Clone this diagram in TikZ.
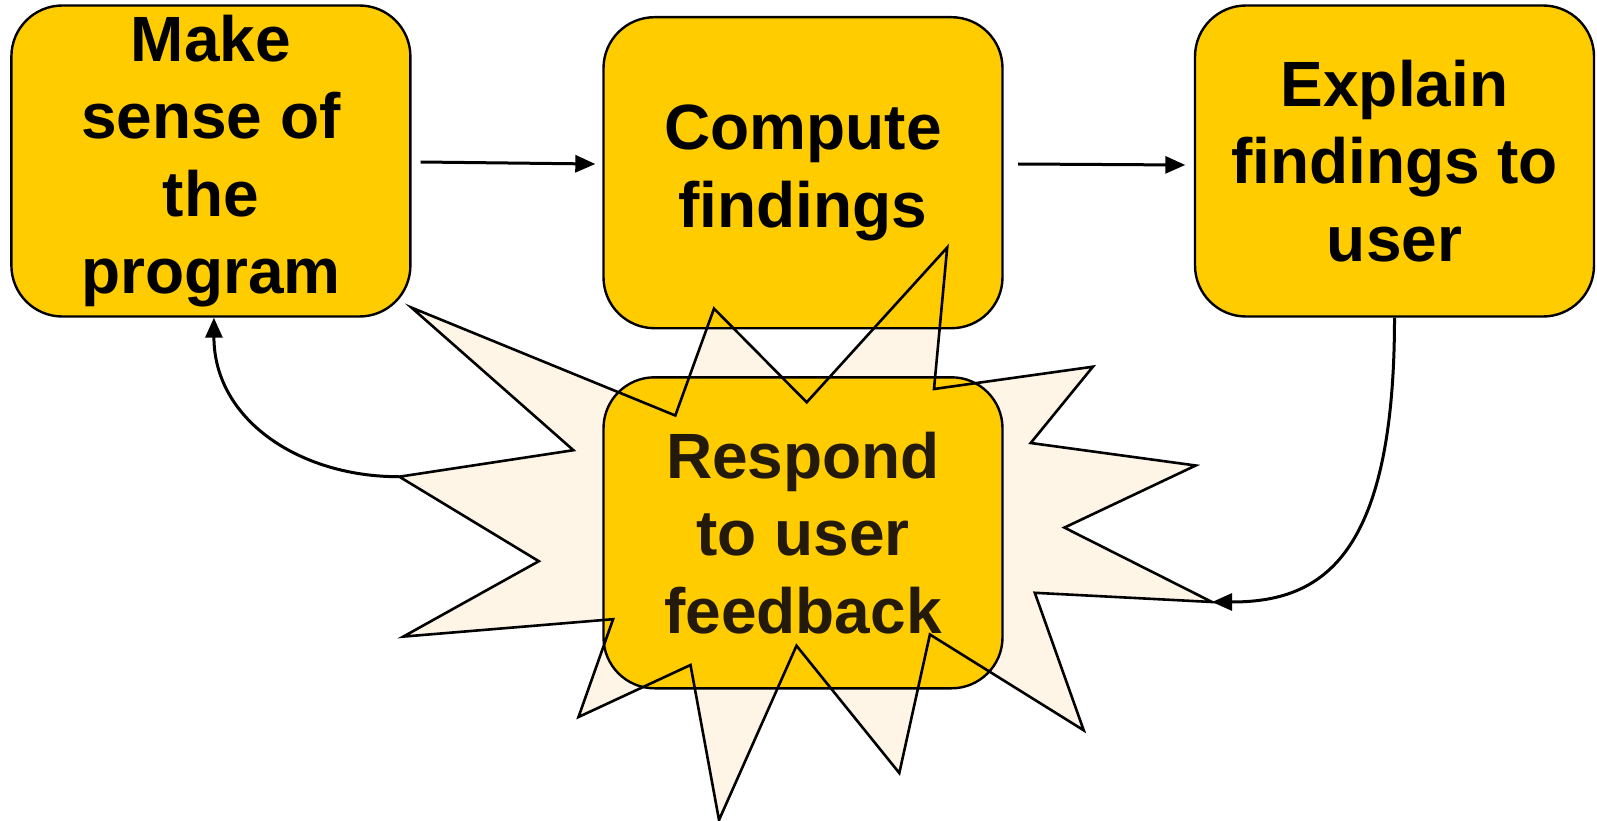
\documentclass[tikz,border=0pt]{standalone}
\usepackage{fontspec}
\setmainfont{Liberation Sans}
\usetikzlibrary{arrows.meta}
\definecolor{boxyellow}{HTML}{FFCC00}
\definecolor{cream}{HTML}{FFF5E7}
\definecolor{darkbrown}{HTML}{231A0B}
\tikzset{
  stagebox/.style={draw=black, line width=2.4pt, fill=boxyellow, rounded corners=51pt,
    minimum width=399pt, minimum height=311pt, inner sep=0pt, align=center,
    font=\fontsize{64pt}{77.5pt}\selectfont\bfseries},
  arr/.style={line width=3pt, -{Triangle[length=20pt,width=17pt]}},
  burst/.style={line width=2.6pt, draw=black, line join=miter}
}
\begin{document}
\begin{tikzpicture}[x=1pt,y=-1pt]
\useasboundingbox (0,0) rectangle (1597,821);
% explosion fill
\fill[cream] (411.5,307.6) -- (675.3,415.5) -- (714,308.6) -- (806.7,402.3) -- (947.2,247.5) -- (934,389) -- (1092.9,366.7) -- (1030.7,443) -- (1195.7,465.5) -- (1064.4,527.6) -- (1212,602) -- (1034.8,592.8) -- (1083.7,730.3) -- (929.9,634.5) -- (899.3,773) -- (796.5,645.7) -- (719,820) -- (690.5,665) -- (578.5,717) -- (613.1,619.2) -- (403.3,636.6) -- (538.8,561.2) -- (399.3,476.7) -- (573.4,450.2) -- cycle;
% boxes
\node[stagebox] (b1) at (210.9,161) {Make\\sense of\\the\\program};
\node[stagebox] (b2) at (803,172.7) {Compute\\findings};
\node[stagebox] (b3) at (1394.5,161) {Explain\\findings to\\user};
\node[stagebox, text=darkbrown] (b4) at (803,532.8) {Respond\\to user\\feedback};
% explosion outline
\draw[burst] (411.5,307.6) -- (675.3,415.5) -- (714,308.6) -- (806.7,402.3) -- (947.2,247.5) -- (934,389) -- (1092.9,366.7) -- (1030.7,443) -- (1195.7,465.5) -- (1064.4,527.6) -- (1212,602) coordinate (tipR) -- (1034.8,592.8) -- (1083.7,730.3) -- (929.9,634.5) -- (899.3,773) -- (796.5,645.7) -- (719,820) -- (690.5,665) -- (578.5,717) -- (613.1,619.2) -- (403.3,636.6) -- (538.8,561.2) -- (399.3,476.7) coordinate (tipL) -- (573.4,450.2) -- cycle;
% connectors
\draw[arr] ([xshift=9pt,yshift=-1pt]b1.east) -- ([xshift=-7pt,yshift=8.7pt]b2.west);
\draw[arr] ([xshift=14.5pt,yshift=8.7pt]b2.east) -- ([xshift=-8.5pt,yshift=-4pt]b3.west);
\draw[arr] (b3.south) .. controls (1394.5,560) and (1320,602) .. (tipR);
\draw[arr] (tipL) .. controls (300,477) and (214,420) .. ([xshift=3pt]b1.south);
\end{tikzpicture}
\end{document}
